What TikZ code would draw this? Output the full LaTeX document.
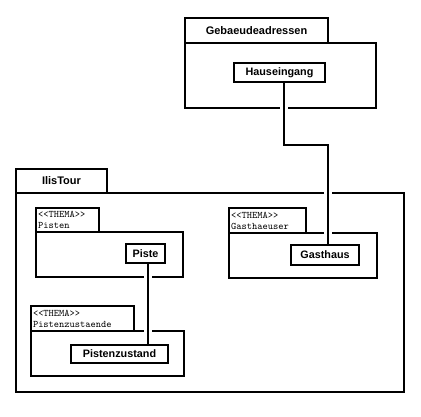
\documentclass[tikz,border=0pt]{standalone}
\usepackage{fontspec}
\setmainfont{Liberation Sans}
\usepackage{tikz}
\usetikzlibrary{positioning}
\tikzset{%
  pkg/.style = {rectangle, draw=black, line width=1.3pt, outer sep=0pt, inner sep=0pt, anchor=north west},
  pkgname/.style = {pkg, font=\bfseries\fontsize{11}{13}\selectfont},
  thema/.style = {pkg, font=\ttfamily\fontsize{10}{11}\selectfont, align=left, inner xsep=2pt},
  cls/.style = {rectangle, draw=black, line width=1.6pt, fill=white, outer sep=0pt, inner sep=0pt, anchor=north west, font=\bfseries\fontsize{10.8}{13}\selectfont},
  link/.style = {line width=1.3pt, preaction={draw=white, line width=8pt, shorten <=3pt, shorten >=3pt}}
}

\begin{document}
\begin{tikzpicture}[x=1pt, y=-1pt, node distance=0pt]
  \useasboundingbox (0,0) rectangle (421,416);

  % packages
  \node (gebaeude-tab) [pkgname, minimum width=143pt, minimum height=25pt] at (185,18) {Gebaeudeadressen};
  \node (gebaeude) [pkg, minimum width=191pt, minimum height=65pt, below right=0pt and 0pt of gebaeude-tab.south west] {};

  \node (ilis-tab) [pkgname, minimum width=91pt, minimum height=24pt] at (16,169) {IlisTour};
  \node (ilis) [pkg, minimum width=388pt, minimum height=199pt, below right=0pt and 0pt of ilis-tab.south west] {};

  \node (pisten-tab) [thema, text width=59pt, minimum height=24pt] at (36,208) {<<THEMA>>\\Pisten};
  \node (pisten) [pkg, minimum width=147pt, minimum height=45pt, below right=0pt and 0pt of pisten-tab.south west] {};

  \node (zustaende-tab) [thema, text width=99pt, minimum height=25pt] at (31,306) {<<THEMA>>\\Pistenzustaende};
  \node (zustaende) [pkg, minimum width=153pt, minimum height=45pt, below right=0pt and 0pt of zustaende-tab.south west] {};

  \node (gasthaeuser-tab) [thema, text width=73pt, minimum height=25pt] at (229,208) {<<THEMA>>\\Gasthaeuser};
  \node (gasthaeuser) [pkg, minimum width=148pt, minimum height=45pt, below right=0pt and 0pt of gasthaeuser-tab.south west] {};

  % classes
  \node (hauseingang) [cls, minimum width=91pt, minimum height=19pt] at (234,63) {Hauseingang};
  \node (piste) [cls, minimum width=39pt, minimum height=19pt] at (126,244) {Piste};
  \node (pistenzustand) [cls, minimum width=97pt, minimum height=18pt] at (71,345) {Pistenzustand};
  \node (gasthaus) [cls, minimum width=68pt, minimum height=20pt] at (291,245) {Gasthaus};

  % links
  \coordinate (haus-bend) at (284,145);
  \coordinate (gast-bend) at (328,145);
  \coordinate (piste-x) at (148,300);

  \draw[link] (haus-bend |- hauseingang.south) -- (haus-bend) -- (gast-bend) -- (gast-bend |- gasthaus.north);
  \draw[link] (piste-x |- piste.south) -- (piste-x |- pistenzustand.north);
\end{tikzpicture}
\end{document}
